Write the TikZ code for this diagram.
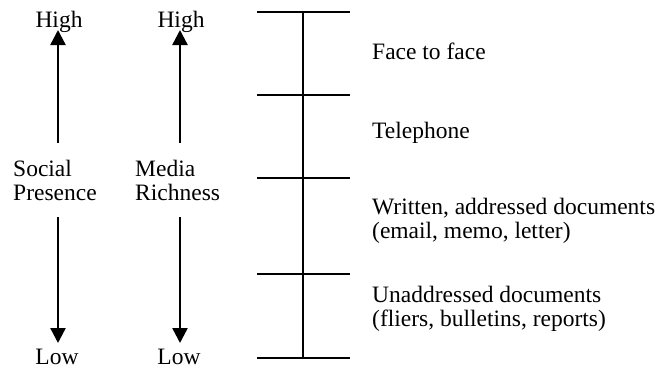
\documentclass[tikz,border=0pt]{standalone}
\usepackage{fontspec}
\setmainfont{Liberation Serif}
\usetikzlibrary{arrows.meta}
\begin{document}
\begin{tikzpicture}[x=1pt,y=-1pt,
  lbl/.style={inner sep=0pt,anchor=base west,align=left,font=\fontsize{23.5}{24}\selectfont},
  clbl/.style={inner sep=0pt,anchor=base,font=\fontsize{23.5}{24}\selectfont},
  bar/.style={line width=1.8pt},
  arr/.style={line width=2.4pt,-{Triangle[length=15pt,width=15pt]}}]
\useasboundingbox (0,0) rectangle (660,367);
% scale
\coordinate (vt) at (303,12);
\coordinate (vb) at (303,358);
\draw[bar] (vt) -- (vb);
\coordinate (h1a) at (257,12);  \coordinate (h1b) at (350,12);
\coordinate (h2a) at (257,95);  \coordinate (h2b) at (350,95);
\coordinate (h3a) at (257,178); \coordinate (h3b) at (350,178);
\coordinate (h4a) at (257,274); \coordinate (h4b) at (350,274);
\coordinate (h5a) at (257,358); \coordinate (h5b) at (350,358);
\draw[bar] (h1a) -- (h1b);
\draw[bar] (h2a) -- (h2b);
\draw[bar] (h3a) -- (h3b);
\draw[bar] (h4a) -- (h4b);
\draw[bar] (h5a) -- (h5b);
\node[lbl] (f2f) at (372,59) {Face to face};
\node[lbl] (tel) at (372,138) {Telephone};
\node[lbl] (wad) at (372,238) {Written, addressed documents\\(email, memo, letter)};
\node[lbl] (uad) at (372,326) {Unaddressed documents\\(fliers, bulletins, reports)};
% left arrows
\node[clbl] (high1) at (59,27) {High};
\node[clbl] (high2) at (181,27) {High};
\node[lbl] (sp) at (13,200) {Social\\Presence};
\node[lbl] (mr) at (135,200) {Media\\Richness};
\node[clbl] (low1) at (57,364) {Low};
\node[clbl] (low2) at (179,364) {Low};
\coordinate (a1s) at (58,143); \coordinate (a1e) at (58,30);
\coordinate (a2s) at (180,143); \coordinate (a2e) at (180,30);
\coordinate (b1s) at (58,217); \coordinate (b1e) at (58,343);
\coordinate (b2s) at (180,217); \coordinate (b2e) at (180,343);
\draw[arr] (a1s) -- (a1e);
\draw[arr] (a2s) -- (a2e);
\draw[arr] (b1s) -- (b1e);
\draw[arr] (b2s) -- (b2e);
\end{tikzpicture}
\end{document}
